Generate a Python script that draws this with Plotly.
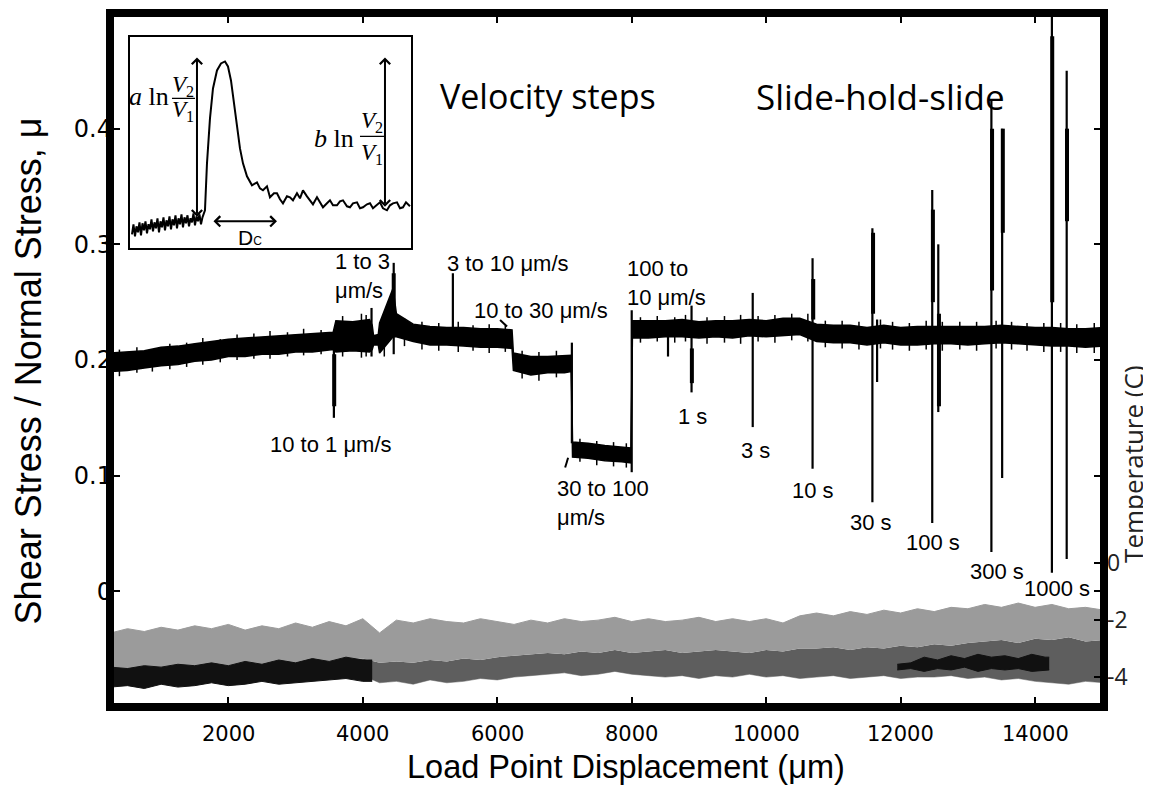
import plotly.graph_objects as go

fric_x = [250, 500, 750, 1000, 1250, 1500, 1750, 2000, 2250, 2500, 2750, 3000, 3250, 3500,
          3560, 3600, 3850, 4100, 4140, 4160, 4230, 4250, 4450, 4500,
          4750, 5000, 5250, 5500, 5750, 6000,
          6220, 6240, 6500, 6750, 7000, 7100, 7120, 7350, 7600, 7850, 7990, 8010,
          8250, 8500, 8750, 9000, 9250, 9500, 9750, 10000, 10250, 10500, 10750, 11000, 11250,
          11500, 11750, 12000, 12250, 12500, 12750, 13000, 13250, 13500, 13750, 14000, 14250,
          14500, 14750, 15025]
fric_lo = [0.190, 0.191, 0.193, 0.195, 0.196, 0.199, 0.200, 0.203, 0.203, 0.205, 0.205, 0.207, 0.207, 0.209,
           0.209, 0.207, 0.208, 0.207, 0.209, 0.213, 0.213, 0.206, 0.220, 0.220,
           0.216, 0.213, 0.213, 0.212, 0.211, 0.211,
           0.210, 0.191, 0.187, 0.189, 0.189, 0.190, 0.116, 0.115, 0.113, 0.112, 0.111, 0.219,
           0.219, 0.220, 0.220, 0.219, 0.220, 0.219, 0.221, 0.220, 0.221, 0.222, 0.216, 0.215, 0.215,
           0.213, 0.215, 0.213, 0.213, 0.214, 0.214, 0.213, 0.214, 0.215, 0.214, 0.213, 0.212,
           0.212, 0.211, 0.212]
fric_hi = [0.206, 0.207, 0.208, 0.211, 0.212, 0.214, 0.216, 0.218, 0.219, 0.220, 0.221, 0.222, 0.223, 0.224,
           0.224, 0.234, 0.233, 0.235, 0.230, 0.221, 0.222, 0.232, 0.262, 0.240,
           0.231, 0.229, 0.228, 0.228, 0.227, 0.227,
           0.226, 0.206, 0.203, 0.203, 0.204, 0.204, 0.129, 0.128, 0.126, 0.125, 0.124, 0.234,
           0.234, 0.234, 0.235, 0.233, 0.234, 0.234, 0.235, 0.234, 0.236, 0.236, 0.231, 0.230, 0.230,
           0.228, 0.230, 0.228, 0.229, 0.229, 0.229, 0.229, 0.229, 0.230, 0.229, 0.228, 0.228,
           0.227, 0.227, 0.228]

# small noise excursions sticking out of the band
noise_x = [380, 640, 870, 1130, 1380, 1620, 1880, 2130, 2380, 2620, 2880, 3120, 3380, 3700, 3980,
           4050, 4320, 4620, 4880, 5130, 5420, 5640, 5880, 6120, 6370, 6620, 6880, 7230, 7480, 7730,
           7920, 8130, 8380, 8640, 8800, 9120, 9380, 9620, 9880, 10130, 10380, 10620, 10880, 11130,
           11380, 11700, 11880, 12130, 12380, 12620, 12880, 13130, 13420, 13650, 13880, 14130, 14380,
           14620, 14880, 15000]
noise_lo = [0.186, 0.189, 0.190, 0.192, 0.194, 0.196, 0.198, 0.200, 0.201, 0.201, 0.203, 0.204, 0.205,
            0.203, 0.202, 0.203, 0.203, 0.212, 0.209, 0.208, 0.207, 0.208, 0.206, 0.207, 0.184, 0.182,
            0.185, 0.112, 0.109, 0.108, 0.107, 0.215, 0.216, 0.215, 0.216, 0.214, 0.215, 0.214, 0.216,
            0.215, 0.217, 0.216, 0.211, 0.210, 0.209, 0.210, 0.209, 0.208, 0.209, 0.208, 0.209, 0.208,
            0.210, 0.209, 0.208, 0.207, 0.207, 0.206, 0.206, 0.207]
noise_hi = [0.209, 0.211, 0.209, 0.214, 0.215, 0.219, 0.218, 0.222, 0.223, 0.225, 0.224, 0.227, 0.226,
            0.238, 0.240, 0.239, 0.236, 0.236, 0.233, 0.232, 0.233, 0.230, 0.231, 0.230, 0.208, 0.207,
            0.208, 0.132, 0.130, 0.129, 0.128, 0.237, 0.238, 0.237, 0.239, 0.237, 0.238, 0.239, 0.238,
            0.239, 0.240, 0.240, 0.234, 0.234, 0.233, 0.235, 0.233, 0.232, 0.234, 0.233, 0.233, 0.233,
            0.234, 0.233, 0.232, 0.232, 0.232, 0.231, 0.232, 0.231]

# velocity-step and slide-hold-slide spikes
spike_x = [3570, 4130, 4460, 5340, 7110, 8000, 8540, 8890, 9800, 10690, 11580, 11650,
           12470, 12560, 13350, 13510, 14250, 14470]
spike_lo = [0.150, 0.203, 0.205, 0.220, 0.128, 0.103, 0.203, 0.172, 0.142, 0.106, 0.077, 0.181,
            0.059, 0.155, 0.034, 0.098, 0.016, 0.028]
spike_hi = [0.215, 0.245, 0.284, 0.275, 0.215, 0.243, 0.232, 0.247, 0.258, 0.288, 0.314, 0.235,
            0.347, 0.300, 0.424, 0.400, 0.520, 0.450]
thick_x = [3575, 4460, 8895, 10700, 11590, 12480, 12570, 13360, 13520, 14255, 14475]
thick_lo = [0.160, 0.240, 0.180, 0.235, 0.240, 0.250, 0.160, 0.260, 0.310, 0.250, 0.320]
thick_hi = [0.205, 0.275, 0.210, 0.270, 0.310, 0.330, 0.240, 0.400, 0.400, 0.480, 0.400]

# little leader ticks next to two labels
lead_x = [6042, 6146, None, 7010, 7054]
lead_y = [0.2345, 0.229, None, 0.107, 0.1155]

temp_x = [250, 500, 750, 1000, 1250, 1500, 1750, 2000, 2250, 2500, 2750, 3000, 3250, 3500, 3750, 4000,
          4250, 4500, 4750, 5000, 5250, 5500, 5750, 6000, 6250, 6500, 6750, 7000, 7250, 7500, 7750,
          8000, 8250, 8500, 8750, 9000, 9250, 9500, 9750, 10000, 10250, 10500, 10750, 11000, 11250,
          11500, 11750, 12000, 12250, 12500, 12750, 13000, 13250, 13500, 13750, 14000, 14250, 14500,
          14750, 15025]
light_hi = [-2.45, -2.30, -2.40, -2.25, -2.35, -2.20, -2.30, -2.15, -2.35, -2.20, -2.30, -2.10, -2.25, -2.05, -2.20, -1.95,
            -2.45, -2.00, -2.10, -1.95, -2.05, -2.10, -1.95, -2.05, -2.15, -2.00, -2.10, -1.95, -2.05, -2.00, -1.90,
            -2.05, -1.95, -2.05, -2.00, -1.90, -2.05, -1.95, -2.05, -1.95, -2.10, -1.85, -1.75, -1.85, -1.70,
            -1.80, -1.65, -1.75, -1.60, -1.70, -1.55, -1.60, -1.45, -1.55, -1.40, -1.55, -1.45, -1.60,
            -1.55, -1.65]
light_lo = [-3.72, -3.68, -3.75, -3.70, -3.66, -3.72, -3.70, -3.64, -3.70, -3.62, -3.58, -3.55, -3.50, -3.45, -3.40, -3.35,
            -3.50, -3.45, -3.50, -3.40, -3.45, -3.35, -3.40, -3.30, -3.25, -3.20, -3.15, -3.20, -3.10, -3.15, -3.05,
            -3.15, -3.10, -3.05, -3.15, -3.10, -3.05, -3.10, -3.15, -3.05, -3.10, -3.00, -3.00, -2.95, -3.05,
            -2.95, -3.00, -2.90, -2.95, -2.85, -2.90, -2.80, -2.75, -2.70, -2.80, -2.65, -2.70, -2.60,
            -2.75, -2.70]
dark_lo = [-4.10, -4.15, -4.05, -4.10, -4.05, -4.10, -4.00, -4.05, -4.00, -3.95, -4.00, -3.95, -3.90, -3.95, -3.90, -3.95,
           -4.20, -4.15, -4.25, -4.10, -4.20, -4.15, -4.05, -4.10, -4.00, -3.95, -3.90, -3.85, -3.95, -3.90, -3.80,
           -3.90, -3.95, -4.00, -3.95, -4.05, -3.95, -4.00, -3.90, -4.00, -3.95, -4.05, -4.00, -3.95, -4.05,
           -4.00, -3.95, -4.05, -4.00, -4.00, -3.95, -4.05, -4.00, -4.10, -4.05, -4.15, -4.20, -4.25,
           -4.15, -4.20]
black1_x = [250, 500, 750, 1000, 1250, 1500, 1750, 2000, 2250, 2500, 2750, 3000, 3250, 3500, 3750, 4000, 4140]
black1_hi = [-3.65, -3.70, -3.60, -3.65, -3.55, -3.60, -3.50, -3.60, -3.45, -3.55, -3.40, -3.50, -3.35, -3.45, -3.30, -3.40, -3.40]
black1_lo = [-4.35, -4.30, -4.40, -4.25, -4.35, -4.30, -4.20, -4.30, -4.25, -4.15, -4.25, -4.20, -4.15, -4.10, -4.05, -4.15, -4.15]
black2_x = [11950, 12150, 12350, 12550, 12750, 12950, 13150, 13350, 13550, 13750, 13950, 14150, 14210]
black2_hi = [-3.55, -3.50, -3.30, -3.40, -3.25, -3.35, -3.20, -3.30, -3.25, -3.35, -3.20, -3.30, -3.30]
black2_lo = [-3.75, -3.70, -3.80, -3.70, -3.75, -3.65, -3.80, -3.70, -3.75, -3.70, -3.80, -3.75, -3.75]

# ---- inset: schematic velocity-step response (arbitrary units) ----
inset_x = [2, 3.5, 5, 6.5, 8, 9.5, 11, 12.5, 14, 15.5, 17, 18.5, 20, 21.5, 23, 24.5, 26, 27.5, 29, 30.5,
           32, 33.5, 35, 36.5, 38, 39.5, 41, 42.5, 44, 45.5, 47, 48.5, 50, 51.5, 53, 54.5, 56, 57.5,
           59, 60.5, 62, 63.5, 65, 66.5, 68, 69.5, 71, 72.5,
           75, 77, 80, 83, 87, 91, 95, 98, 101, 104, 107, 110, 113, 117, 122, 127, 130, 133, 137,
           140, 144, 147, 150, 153, 157, 160, 163, 167, 170, 173, 177, 180, 183, 187, 190, 193, 197,
           200, 203, 207, 210, 213, 217, 220, 223, 227, 230, 233, 237, 240, 243, 247, 250, 253, 257,
           260, 263, 267, 270, 273, 276, 280]
inset_y = [14, 24, 12, 22, 16, 26, 13, 25, 18, 27, 15, 24, 19, 29, 17, 26, 20, 30, 16, 27,
           21, 31, 18, 28, 22, 32, 19, 29, 23, 33, 20, 30, 24, 34, 21, 31, 25, 33, 22, 30,
           26, 35, 23, 32, 27, 34, 24, 31,
           38, 85, 130, 160, 178, 185, 187, 182, 168, 145, 120, 100, 85, 72, 63, 66, 60, 58, 62,
           51, 55, 55, 49, 45, 52, 51, 48, 55, 50, 58, 52, 48, 44, 51, 46, 41, 45,
           48, 43, 43, 47, 48, 42, 41, 45, 46, 40, 41, 44, 45, 40, 43, 46, 40, 38,
           43, 45, 46, 40, 41, 46, 42]

x_ticks = [2000, 4000, 6000, 8000, 10000, 12000, 14000]

event_labels = ["10 to 1 \u03bcm/s", "1 to 3<br>\u03bcm/s", "3 to 10 \u03bcm/s", "10 to 30 \u03bcm/s",
                "30 to 100<br>\u03bcm/s", "100 to<br>10 \u03bcm/s"]
event_x = [3528, 3560, 5225, 5625, 6860, 7900]
event_y = [0.1267, 0.2728, 0.2836, 0.2431, 0.0767, 0.2664]
event_anchor = ["center", "left", "left", "left", "left", "left"]
hold_labels = ["1 s", "3 s", "10 s", "30 s", "100 s", "300 s", "1000 s"]
hold_x = [8900, 9834, 10698, 11560, 12475, 13435, 14330]
hold_y = [0.151, 0.1216, 0.0871, 0.0595, 0.0422, 0.0172, 0.0026]

SANS = "Liberation Sans, Arial, sans-serif"
DEJA = "DejaVu Sans, sans-serif"
HUMAN = "Open Sans, sans-serif"
SERIF = "Liberation Serif, Times New Roman, serif"


def vsegs(xs, los, his):
    px, py = [], []
    for x, lo, hi in zip(xs, los, his):
        px += [x, x, None]
        py += [lo, hi, None]
    return px, py


fig = go.Figure()

# temperature bands (right axis)
fig.add_trace(go.Scatter(x=temp_x, y=dark_lo, yaxis="y2", mode="lines",
                         line=dict(width=0.5, color="#5e5e5e"), showlegend=False, hoverinfo="skip"))
fig.add_trace(go.Scatter(x=temp_x, y=light_lo, yaxis="y2", mode="lines", fill="tonexty",
                         fillcolor="#5e5e5e", line=dict(width=0, color="#5e5e5e"),
                         showlegend=False, hoverinfo="skip"))
fig.add_trace(go.Scatter(x=temp_x, y=light_hi, yaxis="y2", mode="lines", fill="tonexty",
                         fillcolor="#9b9b9b", line=dict(width=1, color="#9b9b9b"),
                         showlegend=False, hoverinfo="skip"))
for bx, blo, bhi in [(black1_x, black1_lo, black1_hi), (black2_x, black2_lo, black2_hi)]:
    fig.add_trace(go.Scatter(x=bx, y=blo, yaxis="y2", mode="lines",
                             line=dict(width=1, color="#111111"),
                             showlegend=False, hoverinfo="skip"))
    fig.add_trace(go.Scatter(x=bx, y=bhi, yaxis="y2", mode="lines", fill="tonexty",
                             fillcolor="#111111", line=dict(width=1, color="#111111"),
                             showlegend=False, hoverinfo="skip"))

# friction band
fig.add_trace(go.Scatter(x=fric_x, y=fric_lo, mode="lines", line=dict(width=1.5, color="black"),
                         showlegend=False, hoverinfo="skip"))
fig.add_trace(go.Scatter(x=fric_x, y=fric_hi, mode="lines", fill="tonexty", fillcolor="black",
                         line=dict(width=1.5, color="black"), showlegend=False, hoverinfo="skip"))

nx, ny = vsegs(noise_x, noise_lo, noise_hi)
fig.add_trace(go.Scatter(x=nx, y=ny, mode="lines", line=dict(color="black", width=1.5),
                         showlegend=False, hoverinfo="skip"))
sx, sy = vsegs(spike_x, spike_lo, spike_hi)
fig.add_trace(go.Scatter(x=sx, y=sy, mode="lines", line=dict(color="black", width=2.2),
                         showlegend=False, hoverinfo="skip"))
kx, ky = vsegs(thick_x, thick_lo, thick_hi)
fig.add_trace(go.Scatter(x=kx, y=ky, mode="lines", line=dict(color="black", width=4),
                         showlegend=False, hoverinfo="skip"))
fig.add_trace(go.Scatter(x=lead_x, y=lead_y, mode="lines", line=dict(color="black", width=2),
                         showlegend=False, hoverinfo="skip"))

# inset curve
fig.add_trace(go.Scatter(x=inset_x, y=inset_y, xaxis="x3", yaxis="y3", mode="lines",
                         line=dict(color="black", width=2), showlegend=False, hoverinfo="skip"))

ann = []
# x tick labels placed just under the frame
for v in x_ticks:
    ann.append(dict(x=v, y=-0.0389, xref="x", yref="paper", text=str(v), showarrow=False,
                    xanchor="center", yanchor="middle", font=dict(family=DEJA, size=21, color="black")))
for t, x, y, a in zip(event_labels, event_x, event_y, event_anchor):
    ann.append(dict(x=x, y=y, xref="x", yref="y", text=t, showarrow=False, xanchor=a, align=a,
                    yanchor="middle", font=dict(family=SANS, size=22, color="black")))
for t, x, y in zip(hold_labels, hold_x, hold_y):
    ann.append(dict(x=x, y=y, xref="x", yref="y", text=t, showarrow=False, xanchor="center",
                    yanchor="middle", font=dict(family=SANS, size=22, color="black")))
ann.append(dict(x=6756, y=0.428, xref="x", yref="y", text="Velocity steps", showarrow=False,
                xanchor="center", yanchor="middle", font=dict(family=HUMAN, size=34, color="black")))
ann.append(dict(x=11695, y=0.428, xref="x", yref="y", text="Slide-hold-slide", showarrow=False,
                xanchor="center", yanchor="middle", font=dict(family=HUMAN, size=35, color="black")))

# axis titles
ann.append(dict(x=-0.0825, y=0.485, xref="paper", yref="paper", text="Shear Stress / Normal Stress, \u03bc",
                textangle=-90, showarrow=False, xanchor="center", yanchor="middle",
                font=dict(family=SANS, size=36, color="black")))
ann.append(dict(x=0.519, y=-0.0864, xref="paper", yref="paper", text="Load Point Displacement (\u03bcm)",
                showarrow=False, xanchor="center", yanchor="middle",
                font=dict(family=SANS, size=32.5, color="black")))
ann.append(dict(x=1.029, y=0.35, xref="paper", yref="paper", text="Temperature (C)",
                textangle=-90, showarrow=False, xanchor="center", yanchor="middle",
                font=dict(family=HUMAN, size=26, color="#222222")))

# inset arrows (double headed)
for (x0, y0, x1, y1) in [(67, 30, 67, 191), (255, 40, 255, 191), (82, 27, 147, 27)]:
    ann.append(dict(x=x1, y=y1, ax=x0, ay=y0, xref="x3", yref="y3", axref="x3", ayref="y3",
                    text="", showarrow=True, arrowhead=4, startarrowhead=4, arrowside="end+start",
                    arrowwidth=2, arrowsize=1, startarrowsize=1, standoff=0, startstandoff=0,
                    arrowcolor="black"))
# inset math labels
ann.append(dict(x=41, y=152, xref="x3", yref="y3", text="<i>a</i> ln", showarrow=False, xanchor="right",
                font=dict(family=SERIF, size=26, color="black")))
ann.append(dict(x=53, y=162, xref="x3", yref="y3", text="<i>V</i><sub>2</sub>", showarrow=False,
                font=dict(family=SERIF, size=23, color="black")))
ann.append(dict(x=53, y=137, xref="x3", yref="y3", text="<i>V</i><sub>1</sub>", showarrow=False,
                font=dict(family=SERIF, size=23, color="black")))
ann.append(dict(x=226, y=110, xref="x3", yref="y3", text="<i>b</i> ln", showarrow=False, xanchor="right",
                font=dict(family=SERIF, size=26, color="black")))
ann.append(dict(x=242, y=126, xref="x3", yref="y3", text="<i>V</i><sub>2</sub>", showarrow=False,
                font=dict(family=SERIF, size=23, color="black")))
ann.append(dict(x=242, y=94, xref="x3", yref="y3", text="<i>V</i><sub>1</sub>", showarrow=False,
                font=dict(family=SERIF, size=23, color="black")))
ann.append(dict(x=120, y=11, xref="x3", yref="y3", text="D<span style='font-size:12px'>C</span>",
                showarrow=False, font=dict(family=SANS, size=21, color="black")))

shapes = [
    dict(type="rect", xref="paper", yref="paper", x0=0, x1=1, y0=0, y1=1,
         line=dict(color="black", width=8), layer="above"),
    dict(type="line", xref="x3", yref="y3", x0=42, x1=65, y0=150, y1=150, line=dict(color="black", width=1.2)),
    dict(type="line", xref="x3", yref="y3", x0=230, x1=254, y0=112, y1=112, line=dict(color="black", width=1.2)),
]

# the page body adds an 8px offset, so the figure is 8px smaller than the window
fig.update_layout(
    width=1143, height=778,
    margin=dict(l=102, r=47, t=4.5, b=79),
    paper_bgcolor="white", plot_bgcolor="white",
    annotations=ann, shapes=shapes,
    xaxis=dict(range=[240, 15025], tickvals=x_ticks, showticklabels=False,
               ticks="inside", ticklen=10, tickwidth=1.5, tickcolor="black",
               mirror="ticks", showgrid=False, zeroline=False, showline=False),
    yaxis=dict(range=[-0.1, 0.5], tickvals=[0, 0.1, 0.2, 0.3, 0.4], ticktext=["0", "0.1", "0.2", "0.3", "0.4"],
               ticks="inside", ticklen=10, tickwidth=1.5, tickcolor="black", mirror="ticks",
               showgrid=False, zeroline=False, showline=False, ticklabelstandoff=-3,
               tickfont=dict(family=DEJA, size=24, color="black")),
    yaxis2=dict(range=[-5.05, 19.32], overlaying="y", side="right", tickvals=[0, -2, -4],
                ticktext=["0", "-2", "-4"], ticks="inside", ticklen=10, tickwidth=1.5, tickcolor="black",
                showgrid=False, zeroline=False, showline=False, ticklabelstandoff=2,
                tickfont=dict(family=HUMAN, size=23, color="#222222")),
    xaxis3=dict(domain=[0.0201, 0.3028], range=[0, 281], anchor="y3", showline=True, mirror=True,
                linecolor="black", linewidth=2, showticklabels=False, ticks="", showgrid=False, zeroline=False),
    yaxis3=dict(domain=[0.661, 0.9647], range=[0, 211], anchor="x3", showline=True, mirror=True,
                linecolor="black", linewidth=2, showticklabels=False, ticks="", showgrid=False, zeroline=False),
)

fig.write_html("out.html")
